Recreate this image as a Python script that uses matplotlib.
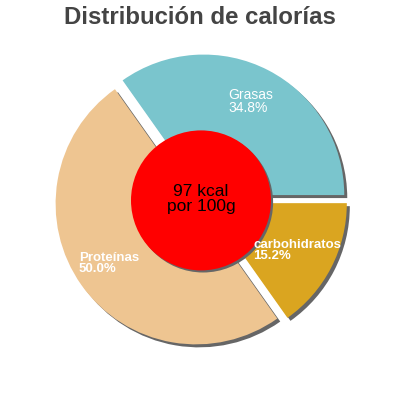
import matplotlib
matplotlib.use("Agg")
import matplotlib.pyplot as plt
from matplotlib.patches import Circle

plt.rcParams['font.family'] = ['Liberation Sans', 'DejaVu Sans']

# data
labels = ["Grasas", "Proteínas", "carbohidratos"]
values = [34.8, 50.0, 15.2]
colors = ["#7AC5CD", "#EEC591", "#DAA520"]
label_weights = ["normal", "bold", "bold"]
label_sizes = [10, 9.5, 9.5]
center_text = "97 kcal\npor 100g"
title = "Distribución de calorías"

# layout (pixel-ish units, y up)
cx, cy = 201, 199.6
radius = 140.5
explode = 6
shadow_dx, shadow_dy = 3, -3
shadow_col = "#666666"
# label offsets from centre, left aligned
label_offsets = [(27, 99), (-122, -63), (52, -50)]

fig = plt.figure(figsize=(4, 4), dpi=100)
ax = fig.add_axes([0, 0, 1, 1])

# shadow pie
ax.pie(values, colors=[shadow_col] * len(values), startangle=0,
       counterclock=True, radius=radius, explode=[explode] * len(values),
       center=(cx + shadow_dx, cy + shadow_dy),
       wedgeprops=dict(linewidth=0))
# main pie
ax.pie(values, colors=colors, startangle=0, counterclock=True,
       radius=radius, explode=[explode] * len(values), center=(cx, cy),
       wedgeprops=dict(linewidth=0))

# centre disc with shadow
ax.add_patch(Circle((cx + shadow_dx * 0.7, cy + shadow_dy * 0.7), 70,
                    color=shadow_col, lw=0, zorder=5))
ax.add_patch(Circle((cx, cy), 70, color="#FF0000", lw=0, zorder=6))
ax.text(cx, cy + 1, center_text, ha="center", va="center", fontsize=12.5,
        color="black", linespacing=1.0, zorder=7)

for lab, val, (ox, oy), w, fs in zip(labels, values, label_offsets,
                                     label_weights, label_sizes):
    ax.text(cx + ox, cy + oy, f"{lab}\n{val:.1f}%", ha="left", va="center",
            fontsize=fs, color="white", fontweight=w, linespacing=0.92,
            zorder=8)

ax.text(200, 383, title, ha="center", va="center", fontsize=17.3,
        fontweight="bold", color="#444444")

ax.set_xlim(0, 400)
ax.set_ylim(0, 400)
ax.set_aspect("equal")
ax.axis("off")

fig.savefig("out.png", dpi=100)
